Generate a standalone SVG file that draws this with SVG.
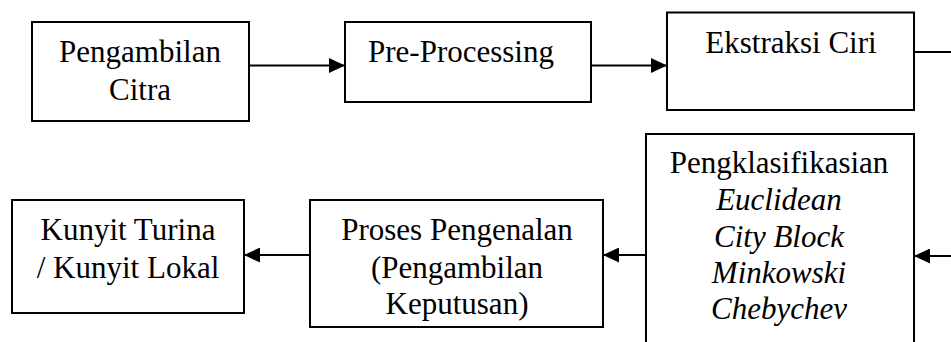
<svg xmlns="http://www.w3.org/2000/svg" width="951" height="342" viewBox="0 0 951 342">
<style>
.box{fill:#fff;stroke:#000;stroke-width:2}
.t{font-size:31px;fill:#000;text-anchor:middle}
.i{font-style:italic}
.c{fill:none;stroke:#000;stroke-width:2}
</style>
<defs>
<marker id="ah" markerUnits="userSpaceOnUse" markerWidth="17" markerHeight="15" refX="16" refY="7.5" orient="auto">
<path d="M0,0 L16,7.5 L0,15 Z" fill="#000"/>
</marker>
</defs>
<rect width="951" height="342" fill="#fff"/>
<g id="connectors">
<line class="c" x1="249" y1="65.5" x2="345" y2="65.5" marker-end="url(#ah)"/>
<line class="c" x1="591" y1="65.5" x2="667" y2="65.5" marker-end="url(#ah)"/>
<line class="c" x1="914" y1="52" x2="951" y2="52"/>
<line class="c" x1="951" y1="256" x2="914" y2="256" marker-end="url(#ah)"/>
<line class="c" x1="646" y1="255" x2="603" y2="255" marker-end="url(#ah)"/>
<line class="c" x1="310" y1="255" x2="244" y2="255" marker-end="url(#ah)"/>
</g>
<g font-family="Liberation Serif, DejaVu Serif, serif">
<g id="pengambilan-citra">
<rect class="box" x="32" y="22" width="217" height="99"/>
<text class="t" x="140" y="62">Pengambilan</text>
<text class="t" x="140" y="100">Citra</text>
</g>
<g id="pre-processing">
<rect class="box" x="345" y="22" width="246" height="80"/>
<text class="t" x="461" y="62">Pre-Processing</text>
</g>
<g id="ekstraksi-ciri">
<rect class="box" x="667" y="12.5" width="247" height="97.5"/>
<text class="t" x="791" y="53">Ekstraksi Ciri</text>
</g>
<g id="pengklasifikasian">
<rect class="box" x="646" y="134" width="268" height="215"/>
<text class="t" x="779" y="173">Pengklasifikasian</text>
<text class="t i" x="779" y="210">Euclidean</text>
<text class="t i" x="779" y="247">City Block</text>
<text class="t i" x="779" y="283">Minkowski</text>
<text class="t i" x="779" y="319">Chebychev</text>
</g>
<g id="proses-pengenalan">
<rect class="box" x="310" y="200" width="293" height="127"/>
<text class="t" x="457" y="240">Proses Pengenalan</text>
<text class="t" x="457" y="277.5">(Pengambilan</text>
<text class="t" x="457" y="313.5">Keputusan)</text>
</g>
<g id="kunyit">
<rect class="box" x="12" y="200" width="232" height="113"/>
<text class="t" x="128" y="240">Kunyit Turina</text>
<text class="t" x="128" y="277.5">/ Kunyit Lokal</text>
</g>
</g>
</svg>
